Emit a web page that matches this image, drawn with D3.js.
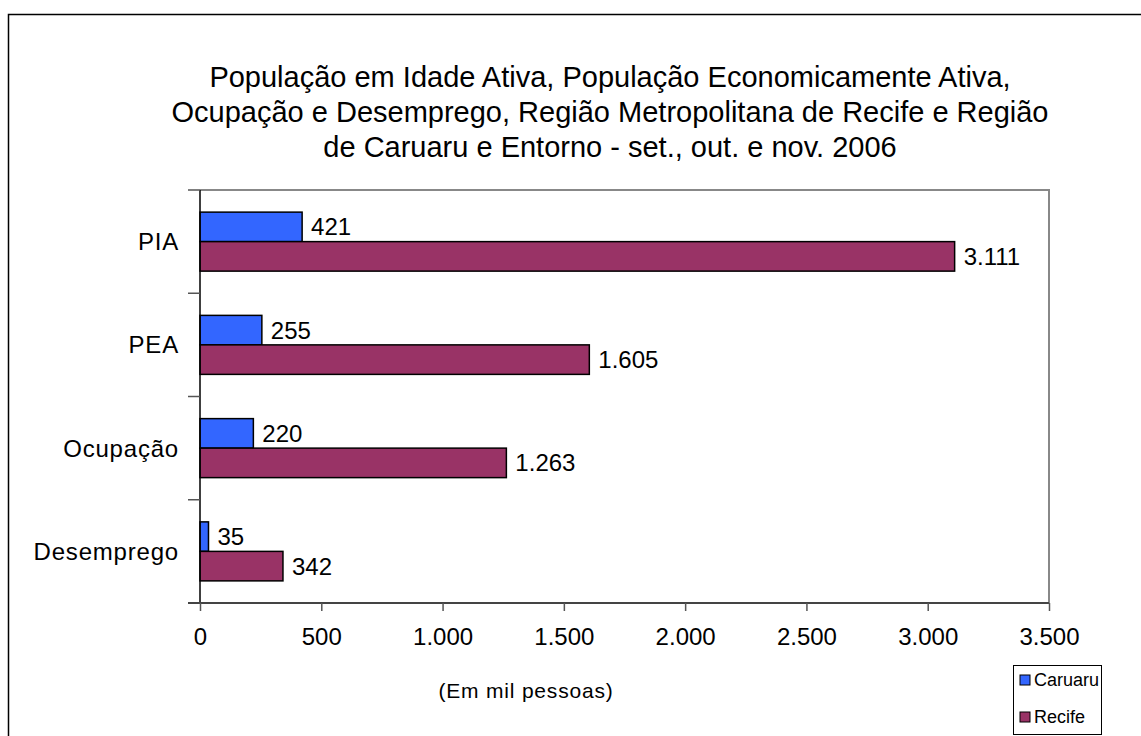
<html>
<head>
<meta charset="utf-8">
<script src="https://d3js.org/d3.v7.min.js"></script>
<style>
  body { margin: 0; background: #fff; }
  text { font-family: "Liberation Sans", Arial, sans-serif; fill: #000; }
</style>
</head>
<body>
<svg id="chart" width="1141" height="736"></svg>
<script>
// data
var categories = ["PIA", "PEA", "Ocupação", "Desemprego"];
var seriesNames = ["Caruaru", "Recife"];
var caruaru = [421, 255, 220, 35];
var recife = [3111, 1605, 1263, 342];
var xTicks = [0, 500, 1000, 1500, 2000, 2500, 3000, 3500];
var titleLines = [
  "População em Idade Ativa, População Economicamente Ativa,",
  "Ocupação e Desemprego, Região Metropolitana de Recife e Região",
  "de Caruaru e Entorno - set., out. e nov. 2006"
];
var colors = ["#3366FF", "#993366"];

var svg = d3.select("#chart");
var pLeft = 200, pTop = 190, pRight = 1049, pBottom = 603;

var fmt = function(v) { return d3.format(",")(v).replace(/,/g, "."); };

// outer frame
svg.append("rect")
  .attr("x", 8.5).attr("y", 14.5)
  .attr("width", 1160).attr("height", 760)
  .attr("fill", "none").attr("stroke", "#000").attr("stroke-width", 1.5);

// title
svg.append("g").selectAll("text")
  .data(titleLines).enter().append("text")
  .attr("x", 610)
  .attr("y", function(d, i) { return 87 + i * 35; })
  .attr("text-anchor", "middle")
  .style("font-size", "29px")
  .text(function(d) { return d; });

var x = d3.scaleLinear().domain([0, 3500]).range([pLeft, pRight]);
var y = d3.scaleBand().domain(categories).range([pTop, pBottom]);
var groupH = y.bandwidth() / 1.75;
var sub = d3.scaleBand().domain(seriesNames).range([0, groupH]);

// plot area border (top/right gray)
svg.append("path")
  .attr("d", "M" + pLeft + "," + pTop + "H" + pRight + "V" + pBottom)
  .attr("fill", "none").attr("stroke", "#888").attr("stroke-width", 2);

// bars
var data = categories.map(function(c, i) {
  return [{cat: c, s: "Caruaru", v: caruaru[i], k: 0}, {cat: c, s: "Recife", v: recife[i], k: 1}];
});
var grp = svg.append("g").selectAll("g")
  .data(data).enter().append("g")
  .attr("transform", function(d) { return "translate(0," + (y(d[0].cat) + (y.bandwidth() - groupH) / 2) + ")"; });

grp.selectAll("rect")
  .data(function(d) { return d; }).enter().append("rect")
  .attr("x", x(0))
  .attr("y", function(d) { return sub(d.s); })
  .attr("width", function(d) { return x(d.v) - x(0); })
  .attr("height", sub.bandwidth())
  .attr("fill", function(d) { return colors[d.k]; })
  .attr("stroke", "#000").attr("stroke-width", 1.5);

grp.selectAll("text")
  .data(function(d) { return d; }).enter().append("text")
  .attr("x", function(d) { return x(d.v) + 9; })
  .attr("y", function(d) { return sub(d.s) + sub.bandwidth() / 2; })
  .attr("dy", "0.35em")
  .style("font-size", "24px")
  .text(function(d) { return fmt(d.v); });

// y axis
var ya = svg.append("g");
ya.append("line").attr("x1", pLeft).attr("x2", pLeft).attr("y1", pTop).attr("y2", pBottom)
  .attr("stroke", "#000").attr("stroke-width", 1.5);
ya.selectAll("line.tk")
  .data(categories.concat(["end"])).enter().append("line")
  .attr("class", "tk")
  .attr("x1", pLeft - 12).attr("x2", pLeft)
  .attr("y1", function(d, i) { return pTop + i * y.bandwidth(); })
  .attr("y2", function(d, i) { return pTop + i * y.bandwidth(); })
  .attr("stroke", "#555").attr("stroke-width", 1.5);
ya.selectAll("text")
  .data(categories).enter().append("text")
  .attr("x", 179)
  .attr("y", function(d) { return y(d) + y.bandwidth() / 2; })
  .attr("dy", "0.35em")
  .attr("text-anchor", "end")
  .style("font-size", "24px")
  .style("letter-spacing", "0.8px")
  .text(function(d) { return d; });

// x axis
var xa = svg.append("g").attr("transform", "translate(0," + pBottom + ")")
  .call(d3.axisBottom(x).tickValues(xTicks).tickSize(8).tickSizeOuter(0).tickPadding(17).tickFormat(fmt));
xa.select(".domain").attr("stroke", "#444").attr("stroke-width", 2).attr("d", "M" + (pLeft - 12) + ",0H" + pRight);
xa.selectAll(".tick line").attr("stroke", "#555").attr("stroke-width", 1.5);
xa.selectAll(".tick text").style("font-size", "24px").attr("font-family", null);

svg.append("text")
  .attr("x", 526).attr("y", 698)
  .attr("text-anchor", "middle")
  .style("font-size", "21px")
  .style("letter-spacing", "0.8px")
  .text("(Em mil pessoas)");

// legend
var lg = svg.append("g");
lg.append("rect").attr("x", 1013.5).attr("y", 665.5).attr("width", 88).attr("height", 69)
  .attr("fill", "#fff").attr("stroke", "#000").attr("stroke-width", 1);
var li = lg.selectAll("g.it").data(seriesNames).enter().append("g")
  .attr("transform", function(d, i) { return "translate(1020," + (680 + i * 37) + ")"; });
li.append("rect").attr("x", 0).attr("y", -5).attr("width", 10).attr("height", 10)
  .attr("fill", function(d, i) { return colors[i]; }).attr("stroke", "#000").attr("stroke-width", 1);
li.append("text").attr("x", 14).attr("dy", "0.35em").style("font-size", "18px")
  .text(function(d) { return d; });
</script>
</body>
</html>
